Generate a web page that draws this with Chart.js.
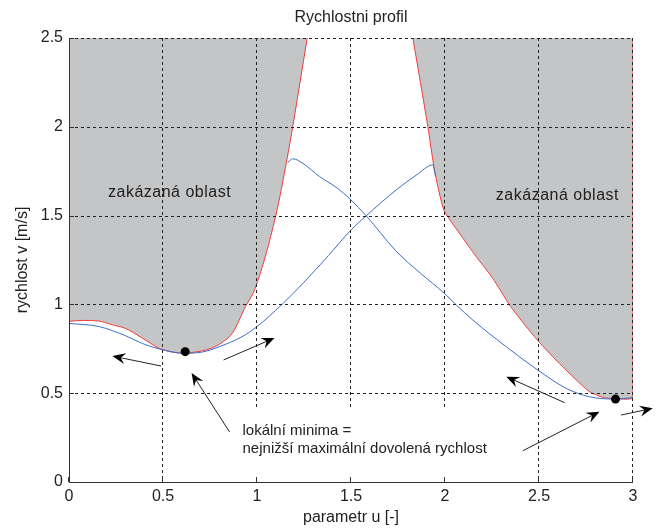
<!DOCTYPE html>
<html>
<head>
<meta charset="utf-8">
<script src="https://cdn.jsdelivr.net/npm/chart.js@4.4.1/dist/chart.umd.min.js"></script>
<style>
  html, body { margin: 0; padding: 0; background: #fff; }
  canvas { display: block; }
</style>
</head>
<body>
<canvas id="profil" width="657" height="528"></canvas>
<script>
const xTicks = [0, 0.5, 1, 1.5, 2, 2.5, 3];
const xTickLabels = ['0', '0.5', '1', '1.5', '2', '2.5', '3'];
const yTicks = [0, 0.5, 1, 1.5, 2, 2.5];
const yTickLabels = ['0', '0.5', '1', '1.5', '2', '2.5'];

// hranice zakazane oblasti (cervena)
const redLeftU = [0, 0.08, 0.16, 0.23, 0.30, 0.39, 0.48, 0.57, 0.62, 0.66, 0.75, 0.82, 0.87, 0.94, 0.99, 1.10, 1.16, 1.19, 1.267];
const redLeftV = [0.905, 0.91, 0.906, 0.885, 0.865, 0.81, 0.753, 0.728, 0.725, 0.73, 0.75, 0.79, 0.84, 0.99, 1.09, 1.50, 1.82, 2.0, 2.5];
const redRightU = [1.829, 1.909, 1.944, 1.994, 2.077, 2.166, 2.254, 2.343, 2.432, 2.499, 2.59, 2.68, 2.769, 2.84, 2.928, 3.0, 3.0];
const redRightV = [2.5, 2.0, 1.757, 1.532, 1.40, 1.269, 1.147, 0.997, 0.875, 0.79, 0.687, 0.593, 0.508, 0.477, 0.467, 0.477, 2.5];

// rychlostni profily (modra)
const blueFwdU = [0, 0.16, 0.30, 0.39, 0.48, 0.615, 0.71, 0.80, 0.92, 1.0, 1.13, 1.25, 1.38, 1.50, 1.58, 1.74, 1.85, 1.935, 1.95];
const blueFwdV = [0.893, 0.875, 0.824, 0.78, 0.749, 0.725, 0.732, 0.762, 0.818, 0.875, 0.997, 1.125, 1.275, 1.419, 1.498, 1.644, 1.73, 1.785, 1.72];
const blueBackU = [1.164, 1.19, 1.25, 1.332, 1.42, 1.50, 1.58, 1.74, 1.87, 1.997, 2.06, 2.148, 2.325, 2.494, 2.645, 2.769, 2.90, 3.0];
const blueBackV = [1.80, 1.82, 1.79, 1.72, 1.66, 1.588, 1.50, 1.30, 1.175, 1.062, 0.997, 0.912, 0.762, 0.63, 0.527, 0.48, 0.467, 0.475];

// lokalni minima
const minU = [0.618, 2.907];
const minV = [0.734, 0.467];

const pts = (us, vs) => us.map((u, i) => ({ x: u, y: vs[i] }));

const FONT = '"Liberation Sans", Arial, sans-serif';
Chart.defaults.font.family = FONT;
Chart.defaults.font.size = 16;
Chart.defaults.color = '#222';

// mrizka, osy, popisky a sipky se kresli az nad daty (jako v Matlabu)
const overlay = {
  id: 'overlay',
  afterDatasetsDraw(chart) {
    const { ctx, chartArea: a, scales: { x, y } } = chart;
    const px = u => x.getPixelForValue(u);
    const py = v => y.getPixelForValue(v);
    ctx.save();

    ctx.strokeStyle = '#222';
    ctx.lineWidth = 1;
    ctx.setLineDash([3, 3]);
    xTicks.forEach(t => {
      if (t === 0) return;
      const X = Math.round(px(t)) - 0.5;
      ctx.beginPath(); ctx.moveTo(X, a.top); ctx.lineTo(X, a.bottom); ctx.stroke();
    });
    yTicks.forEach(t => {
      if (t === 0) return;
      const Y = Math.round(py(t)) + 0.5;
      ctx.beginPath(); ctx.moveTo(a.left, Y); ctx.lineTo(a.right, Y); ctx.stroke();
    });
    ctx.setLineDash([]);

    ctx.fillStyle = '#222';
    ctx.font = '16px ' + FONT;
    ctx.letterSpacing = '0.5px';
    ctx.textAlign = 'center';
    ctx.textBaseline = 'middle';
    ctx.fillText('zakázaná oblast', px(0.535), py(1.627));
    ctx.fillText('zakázaná oblast', px(2.598), py(1.61));
    ctx.letterSpacing = '0px';

    // poznamka s bilym pozadim
    const note = ['lokální minima =', 'nejnižší maximální dovolená rychlost'];
    ctx.font = '15px ' + FONT;
    const w = Math.max(...note.map(l => ctx.measureText(l).width));
    const bx = px(0.923);
    const bt = py(0.416);
    ctx.fillStyle = '#fff';
    ctx.fillRect(bx - 6, bt, w + 22, a.bottom - bt);
    ctx.fillStyle = '#222';
    ctx.textAlign = 'left';
    ctx.textBaseline = 'alphabetic';
    ctx.fillText(note[0], bx, py(0.265));
    ctx.fillText(note[1], bx, py(0.162));

    // osy s tiky dovnitr
    ctx.strokeStyle = '#333';
    ctx.beginPath();
    ctx.moveTo(a.left + 0.5, a.top); ctx.lineTo(a.left + 0.5, a.bottom + 0.5);
    ctx.lineTo(a.right, a.bottom + 0.5);
    xTicks.forEach(t => { const X = Math.round(px(t)) - 0.5; ctx.moveTo(X, a.bottom); ctx.lineTo(X, a.bottom - 5); });
    yTicks.forEach(t => { const Y = Math.round(py(t)) + 0.5; ctx.moveTo(a.left, Y); ctx.lineTo(a.left + 5, Y); });
    ctx.stroke();

    // sipky
    const arrows = [
      [0.490, 0.653, 0.231, 0.709],
      [0.822, 0.687, 1.093, 0.811],
      [0.854, 0.282, 0.652, 0.614],
      [2.414, 0.176, 2.822, 0.396],
      [2.636, 0.447, 2.326, 0.593],
      [2.937, 0.377, 3.105, 0.415]
    ];
    ctx.strokeStyle = '#222';
    ctx.fillStyle = '#000';
    arrows.forEach(([u1, v1, u2, v2]) => {
      const x1 = px(u1), y1 = py(v1), x2 = px(u2), y2 = py(v2);
      const ang = Math.atan2(y2 - y1, x2 - x1);
      const c = Math.cos(ang), s = Math.sin(ang);
      const len = 13, half = 5.5;
      ctx.beginPath();
      ctx.moveTo(x1, y1); ctx.lineTo(x2 - c * len * 0.6, y2 - s * len * 0.6);
      ctx.stroke();
      ctx.beginPath();
      ctx.moveTo(x2, y2);
      ctx.lineTo(x2 - c * len - s * half, y2 - s * len + c * half);
      ctx.lineTo(x2 - c * len * 0.65, y2 - s * len * 0.65);
      ctx.lineTo(x2 - c * len + s * half, y2 - s * len - c * half);
      ctx.closePath();
      ctx.fill();
    });
    ctx.restore();
  }
};

new Chart(document.getElementById('profil'), {
  type: 'line',
  data: {
    datasets: [
      {
        data: pts(minU, minV),
        showLine: false,
        pointRadius: 4.5,
        pointBackgroundColor: '#000',
        pointBorderColor: '#000',
        borderWidth: 0
      },
      {
        data: pts(blueFwdU, blueFwdV),
        borderColor: '#3a6fc6',
        borderWidth: 1,
        pointRadius: 0,
        cubicInterpolationMode: 'monotone',
        fill: false
      },
      {
        data: pts(blueBackU, blueBackV),
        borderColor: '#3a6fc6',
        borderWidth: 1,
        pointRadius: 0,
        cubicInterpolationMode: 'monotone',
        fill: false
      },
      {
        data: pts(redLeftU, redLeftV),
        borderColor: '#f03c3c',
        borderWidth: 1,
        pointRadius: 0,
        cubicInterpolationMode: 'monotone',
        fill: 'end',
        backgroundColor: 'rgb(196,197,199)'
      },
      {
        data: pts(redRightU, redRightV),
        borderColor: '#f03c3c',
        borderWidth: 1,
        pointRadius: 0,
        tension: 0.2,
        fill: 'end',
        backgroundColor: 'rgb(196,197,199)'
      }
    ]
  },
  options: {
    responsive: false,
    animation: false,
    layout: { padding: { left: 0, right: 24, top: 0, bottom: 0 } },
    plugins: {
      legend: { display: false },
      tooltip: { enabled: false },
      title: {
        display: true,
        text: 'Rychlostni profil',
        fullSize: false,
        font: { size: 16, weight: 'normal' },
        color: '#222',
        padding: { top: 8, bottom: 10.8 }
      }
    },
    scales: {
      x: {
        type: 'linear',
        min: 0, max: 3,
        grid: { display: false, drawTicks: false },
        border: { display: false },
        afterBuildTicks: s => { s.ticks = xTicks.map(v => ({ value: v })); },
        afterFit: s => { s.height = 46; },
        ticks: {
          autoSkip: false, maxRotation: 0, padding: 5, color: '#222',
          callback: (v, i) => xTickLabels[i]
        },
        title: {
          display: true, text: 'parametr u [-]', color: '#222',
          font: { size: 16, lineHeight: 1.2 },
          padding: { top: 0, bottom: 0.4 }
        }
      },
      y: {
        type: 'linear',
        min: 0, max: 2.5,
        grid: { display: false, drawTicks: false },
        border: { display: false },
        afterBuildTicks: s => { s.ticks = yTicks.map(v => ({ value: v })); },
        afterFit: s => { s.width = 69; },
        ticks: {
          autoSkip: false, padding: 6, color: '#222',
          callback: (v, i) => yTickLabels[i]
        },
        title: {
          display: true, text: 'rychlost v [m/s]', color: '#222',
          font: { size: 16, lineHeight: 1.2 },
          padding: { top: 13.4, bottom: 0 }
        }
      }
    }
  },
  plugins: [overlay]
});
</script>
</body>
</html>
